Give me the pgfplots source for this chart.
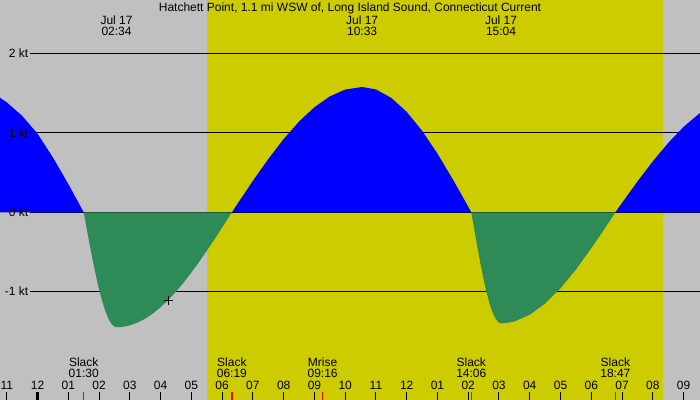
\documentclass[border=0pt]{standalone}
\usepackage{pgfplots}
\pgfplotsset{compat=1.18}
\usepackage{fontspec}
\setmainfont{Liberation Sans}
\definecolor{bgGray}{RGB}{192,192,192}
\definecolor{dayYellow}{RGB}{204,204,0}
\definecolor{ebbGreen}{RGB}{46,139,87}
\tikzset{lbl/.style={font=\fontsize{12}{12}\selectfont, inner sep=0pt, outer sep=0pt, text=black}}
\newcommand{\hr}[2]{\draw[black, line width=1pt] (axis cs:#1,-2.2699) -- (axis cs:#1,-2.4);
  \node[lbl, anchor=base] at (axis cs:#1,-2.2409) {#2};}
\newcommand{\ev}[3]{\draw[red, line width=1.2pt] (axis cs:#1,-2.2699) -- (axis cs:#1,-2.4);
  \node[lbl, anchor=base] at (axis cs:#1,-1.9445) {#2};
  \node[lbl, anchor=base] at (axis cs:#1,-2.0858) {#3};}
\newcommand{\toplbl}[2]{\node[lbl, anchor=base] at (axis cs:#1,2.3707) {Jul 17};
  \node[lbl, anchor=base] at (axis cs:#1,2.2270) {#2};}
\newcommand{\ktline}[1]{\addplot[black, line width=1pt] coordinates {(-0.247,#1) (21.6,#1)};}
\newcommand{\ktlbl}[2]{\node[lbl, anchor=east] at (axis cs:-0.302,#1) {#2};}
\pgfplotsset{tideaxis/.style={
  width=700pt, height=400pt, scale only axis, at={(0,0)}, anchor=south west,
  xmin=-1.2224, xmax=21.535, ymin=-2.367, ymax=2.677,
  axis line style={draw=none}, ticks=none, clip=true}}
\begin{document}
\begin{tikzpicture}
% ---- background axis: night/day shading and reference lines
\begin{axis}[tideaxis, axis background/.style={fill=bgGray}]
\addplot[fill=dayYellow, draw=none] coordinates {(5.507,-2.5) (20.332,-2.5) (20.332,2.8) (5.507,2.8)} -- cycle;
\ktline{2}
\ktline{1}
\ktline{0}
\ktline{-1}
\end{axis}
% ---- foreground axis: current curve, labels, time ticks
\begin{axis}[tideaxis]
% flood before 01:30
\addplot[fill=blue, draw=none] coordinates {
 (-1.3,0) (-1.3,1.465) (-1.0,1.386) (-0.5,1.215) (0,0.99) (0.5,0.69) (1.0,0.355) (1.25,0.178) (1.5,0)} \closedcycle;
% ebb 01:30 - 06:19
\addplot[fill=ebbGreen, draw=none] coordinates {
 (1.5,0) (1.6,-0.213) (1.7,-0.421) (1.8,-0.620) (1.9,-0.805) (2.0,-0.974) (2.1,-1.121) (2.2,-1.243) (2.3,-1.340) (2.4,-1.407) (2.5,-1.443) (2.567,-1.45)
 (2.75,-1.446) (3.0,-1.426) (3.25,-1.391) (3.5,-1.341) (3.75,-1.276) (4.0,-1.197) (4.25,-1.104) (4.5,-1.000) (4.75,-0.885) (5.0,-0.759) (5.25,-0.627) (5.5,-0.485) (5.75,-0.341) (6.0,-0.192) (6.317,0)} \closedcycle;
% flood 06:19 - 14:06
\addplot[fill=blue, draw=none] coordinates {
 (6.317,0) (6.5,0.107) (7.0,0.397) (7.5,0.671) (8.0,0.924) (8.5,1.144) (9.0,1.325) (9.5,1.461) (10.0,1.547) (10.55,1.58)
 (11.0,1.549) (11.5,1.442) (12.0,1.266) (12.5,1.028) (13.0,0.739) (13.5,0.415) (13.8,0.209) (14.1,0)} \closedcycle;
% ebb 14:06 - 18:47
\addplot[fill=ebbGreen, draw=none] coordinates {
 (14.1,0) (14.2,-0.226) (14.3,-0.446) (14.4,-0.655) (14.5,-0.847) (14.6,-1.016) (14.7,-1.159) (14.8,-1.270) (14.9,-1.349) (15.0,-1.392) (15.067,-1.40)
 (15.25,-1.396) (15.5,-1.377) (16.0,-1.292) (16.5,-1.151) (17.0,-0.958) (17.5,-0.723) (18.0,-0.454) (18.4,-0.226) (18.783,0)} \closedcycle;
% flood after 18:47
\addplot[fill=blue, draw=none] coordinates {
 (18.783,0) (19.0,0.118) (19.5,0.387) (20.0,0.642) (20.5,0.874) (21.0,1.077) (21.5,1.241) (21.7,1.295) (21.7,0)} \closedcycle;
% current time marker
\addplot[only marks, mark=+, mark size=4.5pt, black, line width=1pt] coordinates {(4.24,-1.11)};
% labels
\ktlbl{2}{2 kt}
\ktlbl{1}{1 kt}
\ktlbl{0}{0 kt}
\ktlbl{-1}{-1 kt}
\node[lbl, anchor=base] at (axis cs:10.156,2.5298) {Hatchett Point, 1.1 mi WSW of, Long Island Sound, Connecticut Current};
\toplbl{2.567}{02:34}
\toplbl{10.55}{10:33}
\toplbl{15.067}{15:04}
% hour ticks
\hr{-1}{11}
\draw[black, line width=3pt] (axis cs:0,-2.2699) -- (axis cs:0,-2.4);
\node[lbl, anchor=base] at (axis cs:0,-2.2409) {12};
\hr{1}{01}\hr{2}{02}\hr{3}{03}\hr{4}{04}\hr{5}{05}\hr{6}{06}\hr{7}{07}\hr{8}{08}\hr{9}{09}\hr{10}{10}
\hr{11}{11}\hr{12}{12}\hr{13}{01}\hr{14}{02}\hr{15}{03}\hr{16}{04}\hr{17}{05}\hr{18}{06}\hr{19}{07}\hr{20}{08}\hr{21}{09}
% events
\ev{1.5}{Slack}{01:30}
\ev{6.317}{Slack}{06:19}
\ev{9.267}{Mrise}{09:16}
\ev{14.1}{Slack}{14:06}
\ev{18.783}{Slack}{18:47}
\end{axis}
\end{tikzpicture}
\end{document}
